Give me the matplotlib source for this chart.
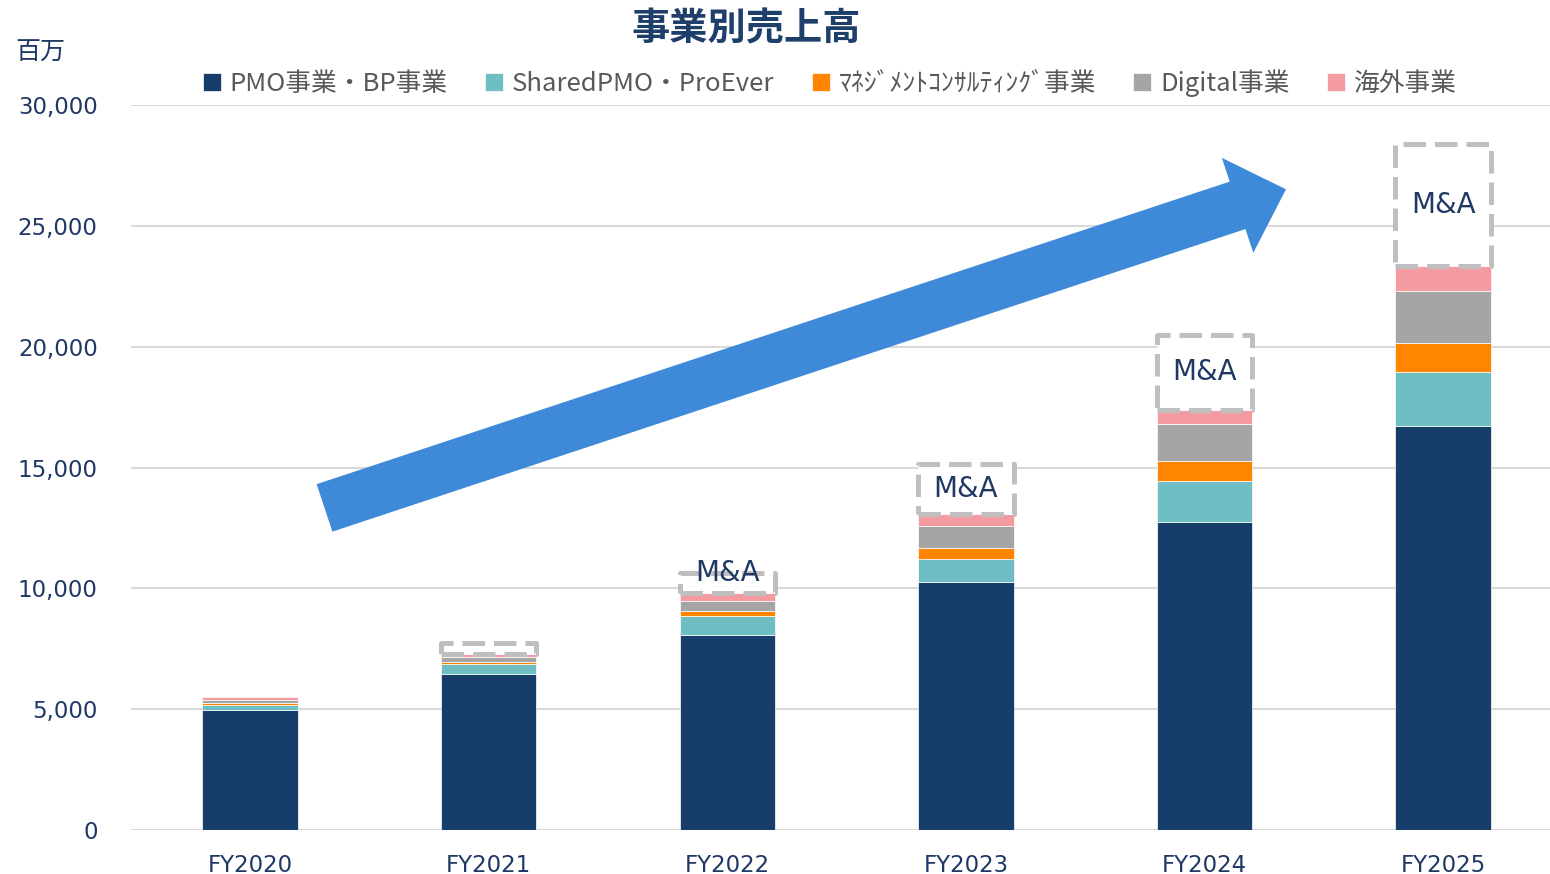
import matplotlib
matplotlib.use("Agg")
import matplotlib.pyplot as plt
from matplotlib.patches import FancyArrow
from matplotlib.ticker import FuncFormatter
import numpy as np

# ---- data ----
categories = ["FY2020", "FY2021", "FY2022", "FY2023", "FY2024", "FY2025"]
pmo_bp = [4950, 6450, 8070, 10280, 12750, 16700]
shared_proever = [210, 420, 800, 920, 1710, 2240]
management = [90, 100, 190, 480, 810, 1200]
digital = [110, 200, 400, 900, 1520, 2180]
overseas = [140, 120, 340, 500, 610, 1030]
mna = [0, 450, 850, 2060, 3100, 5030]
mna_labels = ["", "", "M&A", "M&A", "M&A", "M&A"]

series_names = ["PMO事業・BP事業", "SharedPMO・ProEver", "ﾏﾈｼﾞﾒﾝﾄｺﾝｻﾙﾃｨﾝｸﾞ事業", "Digital事業", "海外事業"]
series_colors = ["#173E6B", "#6FBEC4", "#FF8500", "#A5A5A5", "#F49BA2"]
yticks = [0, 5000, 10000, 15000, 20000, 25000, 30000]

title = "事業別売上高"
unit_label = "百万"

NAVY = "#1F3864"
CJK = ["Noto Sans CJK JP", "DejaVu Sans"]
plt.rcParams["font.family"] = ["DejaVu Sans", "Noto Sans CJK JP"]

fig = plt.figure(figsize=(15.5, 8.74), dpi=100)
ax = fig.add_axes([131 / 1550, 44 / 874, 1 - 131 / 1550, (830 - 105) / 874])

x = np.arange(len(categories))
width = 0.40
bottom = np.zeros(len(categories))
all_series = [pmo_bp, shared_proever, management, digital, overseas]
handles = []
for vals, name, col in zip(all_series, series_names, series_colors):
    b = ax.bar(x, vals, width, bottom=bottom, color=col, edgecolor="white",
               linewidth=0.5, label=name, zorder=3)
    handles.append(b)
    bottom = bottom + np.array(vals)

# M&A dashed boxes
mna_arr = np.array(mna)
mask = mna_arr > 0
ax.bar(x[mask], mna_arr[mask], width, bottom=bottom[mask], color="white",
       edgecolor="#BFBFBF", linewidth=3.6, linestyle=(0, (4.5, 1.8)),
       joinstyle="round", zorder=4)
for xi, b0, h, lab in zip(x, bottom, mna, mna_labels):
    if not lab:
        continue
    ty = b0 + h / 2 if h > 1500 else b0 + h
    ax.text(xi, ty, lab, ha="center", va="center", fontsize=20, color=NAVY,
            family=["DejaVu Sans"], zorder=6)

ax.set_ylim(0, 30000)
ax.set_xlim(-0.4987, 5.448)
ax.set_yticks(yticks)
ax.yaxis.set_major_formatter(FuncFormatter(lambda v, p: f"{int(v):,}"))
ax.set_xticks(x)
ax.set_xticklabels(categories)
ax.tick_params(axis="both", length=0, labelsize=16.5, labelcolor=NAVY)
ax.tick_params(axis="y", pad=24)
ax.tick_params(axis="x", pad=17)
ax.grid(axis="y", color="#D9D9D9", linewidth=1.5, zorder=0)
ax.set_axisbelow(True)
for s in ax.spines.values():
    s.set_visible(False)

# title and unit
fig.text(746 / 1550, 1 - 29 / 874, title, ha="center", va="center",
         fontsize=27.5, fontweight="bold", color="#1F3F6B", family=CJK)
fig.text(15 / 1550, 1 - 53 / 874, unit_label, ha="left", va="center",
         fontsize=18, color=NAVY, family=CJK)

# legend
leg = fig.legend(handles=handles, labels=series_names, loc="center",
                 bbox_to_anchor=(830 / 1550, 1 - 83 / 874), ncol=5,
                 frameon=False, handlelength=0.7, handleheight=0.7,
                 handletextpad=0.35, columnspacing=1.45,
                 prop={"family": CJK, "size": 18.5})
for t in leg.get_texts():
    t.set_color("#595959")

# decorative trend arrow (in inches, figure space)
arrow = FancyArrow(3.245, 3.661, 9.615, 3.186, width=0.50, head_width=1.00,
                   head_length=0.51, length_includes_head=True,
                   transform=fig.dpi_scale_trans, color="#3E8AD9",
                   linewidth=0, zorder=10)
fig.add_artist(arrow)

fig.savefig("out.png", dpi=100)
